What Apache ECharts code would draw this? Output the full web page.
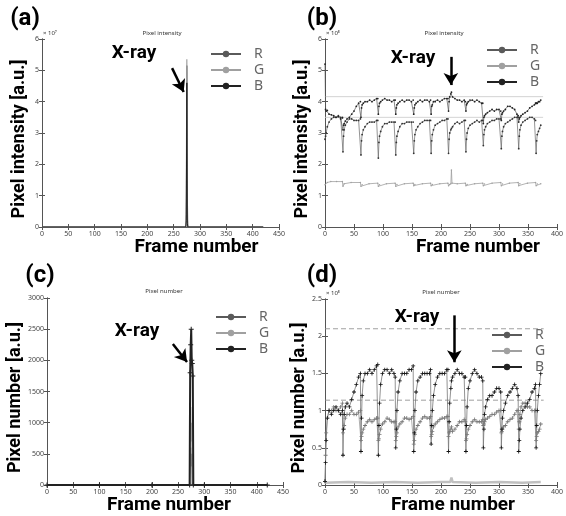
<!DOCTYPE html>
<html>
<head>
<meta charset="utf-8">
<script src="https://cdn.jsdelivr.net/npm/echarts@6/dist/echarts.min.js"></script>
<style>
html, body { margin: 0; padding: 0; background: #fff; }
#main { width: 566px; height: 516px; }
</style>
</head>
<body>
<div id="main"></div>
<script>
// ---------- data ----------
// (a) pixel intensity, whole recording (x10^7)
var aFrames = [0, 100, 200, 273, 274, 275, 276, 277, 300, 420];
var aR = [0, 0, 0, 0, 0.4, 5.15, 0.3, 0, 0, 0];
var aG = [0, 0, 0, 0, 1.0, 5.35, 0.8, 0, 0, 0];
var aB = [0, 0, 0, 0, 0.2, 4.6, 0.1, 0, 0, 0];

// (c) pixel number, whole recording
var cFrames = [0, 100, 200, 272, 273, 274, 275, 276, 277, 278, 279, 300, 420];
var cR = [0, 0, 0, 0, 0, 600, 300, 500, 0, 0, 0, 0, 0];
var cG = [0, 0, 0, 0, 0, 1250, 700, 1000, 0, 0, 0, 0, 0];
var cB = [0, 0, 0, 0, 1800, 2250, 2500, 2000, 1950, 1750, 0, 0, 0];

// (b) and (d) share the sampled frames
var frames = [
  0, 1, 2, 4, 7, 11, 15, 19, 23, 27, 30,
  31, 32, 33, 35, 38, 42, 46, 50, 54, 58, 61,
  62, 63, 64, 66, 69, 73, 77, 81, 85, 89, 91,
  92, 93, 94, 96, 99, 103, 107, 111, 115, 119, 121,
  122, 123, 124, 126, 129, 133, 137, 141, 145, 149, 152,
  153, 154, 155, 157, 160, 164, 168, 172, 176, 180, 182,
  183, 184, 185, 187, 190, 194, 198, 202, 206, 210, 212,
  213, 214, 215, 217, 218, 220, 224, 228, 232, 236, 240, 242,
  243, 244, 245, 247, 250, 254, 258, 262, 266, 270, 272,
  273, 274, 275, 277, 280, 284, 288, 292, 296, 300, 303,
  304, 305, 306, 308, 311, 315, 319, 323, 327, 331, 333,
  334, 335, 336, 338, 341, 345, 349, 353, 357, 361, 363,
  364, 365, 366, 368, 370, 372
];

// (b) pixel intensity (x10^5)
var bB = [
  5.2, 3.75, 3.7, 3.72, 3.6, 3.58, 3.55, 3.5, 3.52, 3.45, 3.48,
  3.1, 3.25, 3.3, 3.38, 3.45, 3.5, 3.6, 3.7, 3.85, 3.95, 4.0,
  3.5, 3.8, 3.9, 3.95, 4.0, 4.0, 4.05, 4.0, 4.05, 4.1, 4.1,
  3.6, 3.85, 3.95, 4.0, 4.05, 4.1, 4.05, 4.05, 4.0, 4.05, 4.05,
  3.6, 3.8, 3.9, 3.95, 4.0, 4.05, 4.0, 4.05, 4.05, 4.0, 4.05,
  3.6, 3.8, 3.9, 3.95, 4.0, 4.05, 4.0, 4.05, 4.05, 4.0, 4.05,
  3.6, 3.85, 3.9, 4.0, 4.0, 4.05, 4.0, 4.05, 4.1, 4.1, 4.1,
  3.7, 4.0, 4.15, 4.25, 4.3, 4.15, 4.1, 4.05, 4.05, 4.0, 4.05, 4.0,
  3.7, 3.9, 3.95, 4.0, 4.05, 4.05, 4.0, 4.05, 4.0, 3.95, 3.95,
  3.3, 3.5, 3.55, 3.6, 3.65, 3.7, 3.75, 3.7, 3.75, 3.75, 3.7,
  3.4, 3.6, 3.65, 3.7, 3.75, 3.85, 3.85, 3.8, 3.75, 3.6, 3.55,
  3.35, 3.45, 3.5, 3.55, 3.6, 3.65, 3.7, 3.8, 3.85, 3.9, 3.95,
  3.95, 3.95, 3.95, 4.0, 4.0, 4.05
];
var bR = [
  2.8, 2.9, 3.0, 3.2, 3.35, 3.45, 3.5, 3.5, 3.55, 3.5, 3.5,
  2.4, 2.9, 3.1, 3.25, 3.35, 3.45, 3.45, 3.4, 3.4, 3.4, 3.45,
  2.3, 2.75, 2.95, 3.1, 3.2, 3.3, 3.35, 3.35, 3.35, 3.4, 3.4,
  2.2, 2.7, 2.9, 3.05, 3.2, 3.3, 3.3, 3.35, 3.35, 3.35, 3.35,
  2.3, 2.7, 2.9, 3.05, 3.2, 3.3, 3.3, 3.35, 3.35, 3.35, 3.35,
  2.35, 2.75, 2.95, 3.1, 3.2, 3.3, 3.35, 3.4, 3.4, 3.4, 3.4,
  2.35, 2.75, 2.95, 3.1, 3.25, 3.3, 3.35, 3.4, 3.4, 3.45, 3.45,
  2.35, 2.8, 3.0, 3.1, 3.15, 3.2, 3.3, 3.35, 3.3, 3.35, 3.4, 3.4,
  2.4, 2.8, 3.0, 3.15, 3.25, 3.3, 3.35, 3.4, 3.35, 3.4, 3.4,
  2.6, 2.95, 3.1, 3.2, 3.3, 3.35, 3.4, 3.4, 3.45, 3.45, 3.45,
  2.5, 2.9, 3.05, 3.2, 3.3, 3.35, 3.4, 3.45, 3.5, 3.5, 3.5,
  2.5, 2.9, 3.1, 3.25, 3.35, 3.4, 3.45, 3.5, 3.5, 3.45, 3.4,
  2.35, 2.75, 2.95, 3.05, 3.15, 3.25
];
var bFramesG = [0, 4, 10, 20, 30, 31, 33, 45, 61, 62, 64, 76, 91, 92, 94, 106, 121, 122, 124, 137,
  152, 153, 155, 168, 182, 183, 185, 198, 212, 213, 215, 217, 218, 219, 228, 242, 243, 245, 258,
  272, 273, 275, 288, 303, 304, 306, 318, 333, 334, 336, 349, 363, 364, 366, 372];
var bG = [1.35, 1.42, 1.45, 1.45, 1.45, 1.3, 1.38, 1.42, 1.42, 1.3, 1.35, 1.38, 1.4, 1.3, 1.35, 1.38, 1.4, 1.3, 1.36, 1.38,
  1.4, 1.32, 1.36, 1.38, 1.4, 1.32, 1.36, 1.38, 1.4, 1.32, 1.36, 1.38, 1.82, 1.4, 1.38, 1.4, 1.32, 1.36, 1.38,
  1.4, 1.32, 1.37, 1.4, 1.42, 1.32, 1.37, 1.4, 1.42, 1.32, 1.38, 1.4, 1.42, 1.32, 1.37, 1.38];
var bRefLevels = [4.16, 3.5];
var bRefEnd = 376;

// (d) pixel number (x10^5)
var dB = [
  0.05, 0.3, 0.6, 0.9, 1.0, 0.95, 1.0, 1.05, 1.0, 0.95, 1.0,
  0.4, 0.75, 0.95, 1.05, 1.1, 1.05, 1.15, 1.25, 1.35, 1.45, 1.5,
  0.45, 0.9, 1.2, 1.4, 1.5, 1.5, 1.55, 1.5, 1.55, 1.6, 1.62,
  0.4, 0.8, 1.1, 1.35, 1.5, 1.55, 1.55, 1.5, 1.55, 1.5, 1.45,
  0.5, 0.75, 1.0, 1.25, 1.4, 1.5, 1.5, 1.5, 1.55, 1.55, 1.6,
  0.45, 0.7, 1.0, 1.25, 1.4, 1.45, 1.5, 1.5, 1.5, 1.5, 1.55,
  0.55, 0.8, 1.0, 1.2, 1.35, 1.45, 1.5, 1.5, 1.5, 1.55, 1.55,
  0.45, 0.85, 1.1, 1.3, 1.4, 1.45, 1.5, 1.55, 1.5, 1.5, 1.45, 1.45,
  0.45, 0.8, 1.05, 1.3, 1.4, 1.5, 1.55, 1.5, 1.45, 1.45, 1.4,
  0.5, 0.75, 0.95, 1.05, 1.15, 1.2, 1.2, 1.25, 1.3, 1.3, 1.25,
  0.5, 0.75, 0.9, 1.0, 1.1, 1.2, 1.25, 1.3, 1.35, 1.3, 1.2,
  0.45, 0.6, 0.75, 0.9, 1.0, 1.05, 1.1, 1.15, 1.25, 1.3, 1.35,
  0.5, 0.8, 1.0, 1.2, 1.35, 1.5
];
var dR = [
  0.05, 0.4, 0.7, 0.9, 1.0, 1.0, 1.05, 1.0, 1.0, 1.05, 1.1,
  0.7, 0.75, 0.8, 0.9, 0.95, 0.95, 1.0, 0.95, 0.95, 0.98, 1.0,
  0.6, 0.65, 0.7, 0.75, 0.8, 0.85, 0.88, 0.85, 0.88, 0.9, 0.9,
  0.6, 0.62, 0.68, 0.75, 0.82, 0.85, 0.9, 0.88, 0.85, 0.85, 0.85,
  0.6, 0.65, 0.7, 0.78, 0.82, 0.85, 0.9, 0.9, 0.88, 0.9, 0.92,
  0.55, 0.6, 0.68, 0.75, 0.8, 0.85, 0.9, 0.92, 0.9, 0.9, 0.92,
  0.65, 0.68, 0.72, 0.78, 0.82, 0.85, 0.88, 0.9, 0.9, 0.92, 0.92,
  0.65, 0.7, 0.72, 0.75, 0.78, 0.72, 0.75, 0.8, 0.85, 0.85, 0.88, 0.85,
  0.6, 0.62, 0.68, 0.75, 0.8, 0.85, 0.88, 0.85, 0.85, 0.85, 0.88,
  0.8, 0.82, 0.85, 0.88, 0.9, 0.92, 0.95, 0.95, 0.98, 1.0, 1.0,
  0.7, 0.72, 0.75, 0.78, 0.8, 0.85, 0.88, 0.9, 0.95, 1.0, 1.0,
  0.75, 0.85, 0.95, 1.05, 1.1, 1.1, 1.05, 1.05, 1.0, 1.0, 1.0,
  0.6, 0.65, 0.7, 0.72, 0.75, 0.82
];
var dFramesG = [0, 40, 80, 120, 160, 200, 216, 218, 220, 260, 300, 340, 372];
var dG = [0.03, 0.04, 0.03, 0.04, 0.03, 0.04, 0.04, 0.1, 0.04, 0.03, 0.04, 0.03, 0.04];
var dRefLevels = [2.1, 1.14];
var dRefEnd = 377;

// X-ray arrows (start, end) in data units
var arrowA = [[247, 5.07], [269, 4.31]];
var arrowB = [[217, 5.43], [217, 4.53]];
var arrowC = [[240, 2262], [267, 1973]];
var arrowD = [[223, 2.28], [223, 1.65]];

// axis setup per panel
var xMax = [450, 400, 450, 400];
var yMax = [6, 6, 3000, 2.5];
var yStep = [1, 1, 500, 0.5];
var yNames = ['Pixel intensity [a.u.]', 'Pixel intensity [a.u.]', 'Pixel number [a.u.]', 'Pixel number [a.u.]'];
var xNameShift = [72, 74, 8, 24];

// ---------- chart ----------
var FONT = 'Noto Sans';
var TFONT = 'Roboto';
var COL_R = '#5a5a5a', COL_G = '#a0a0a0', COL_B = '#222';
var PLUS = 'path://M4,0H6V4H10V6H6V10H4V6H0V4H4Z';

function pairs(xs, ys) {
    return xs.map(function (x, i) { return [x, ys[i]]; });
}

var grids = [
    {left: 42, top: 39, width: 237, height: 188},
    {left: 325, top: 39, width: 236, height: 188},
    {left: 47, top: 298, width: 236, height: 187},
    {left: 325, top: 299, width: 233, height: 186}
];

var tickStyle = {show: true, inside: true, length: 3, lineStyle: {color: '#555', width: 1}};
var lineAx = {show: true, lineStyle: {color: '#555', width: 1}};
var labelStyle = {fontSize: 7, color: '#444', fontFamily: FONT, margin: 3,
    formatter: function (v) { return String(v); }};

var xAxes = [], yAxes = [];
for (var i = 0; i < 4; i++) {
    xAxes.push({
        gridIndex: i, type: 'value', min: 0, max: xMax[i], interval: 50, position: 'bottom',
        axisLine: lineAx, axisTick: tickStyle, axisLabel: labelStyle, splitLine: {show: false},
        name: 'Frame number', nameLocation: 'middle', nameGap: 6,
        nameTextStyle: {fontSize: 19, fontWeight: 'bold', fontFamily: TFONT, color: '#000',
            verticalAlign: 'top', padding: [0, 0, 0, xNameShift[i]]}
    });
    xAxes.push({
        gridIndex: i, type: 'value', min: 0, max: xMax[i], interval: 50, position: 'top',
        axisLine: lineAx, axisTick: tickStyle, axisLabel: {show: false}, splitLine: {show: false}
    });
    yAxes.push({
        gridIndex: i, type: 'value', min: 0, max: yMax[i], interval: yStep[i], position: 'left',
        axisLine: lineAx, axisTick: tickStyle, axisLabel: labelStyle, splitLine: {show: false},
        name: yNames[i], nameLocation: 'middle', nameGap: 14, nameRotate: 90,
        nameTextStyle: {fontSize: 18, fontWeight: 'bold', fontFamily: TFONT, color: '#000',
            padding: [0, 12, 0, 0]}
    });
    yAxes.push({
        gridIndex: i, type: 'value', min: 0, max: yMax[i], interval: yStep[i], position: 'right',
        axisLine: lineAx, axisTick: tickStyle, axisLabel: {show: false}, splitLine: {show: false}
    });
}

function arrowLine(seg) {
    return {
        silent: true, symbol: ['none', 'arrow'], symbolSize: [11, 12],
        lineStyle: {color: '#000', width: 2.5, type: 'solid'},
        label: {show: false},
        data: [[{coord: seg[0]}, {coord: seg[1]}]]
    };
}

function lineSeries(name, grid, data, color, width, extra) {
    var s = {
        name: name, type: 'line', xAxisIndex: grid * 2, yAxisIndex: grid * 2,
        data: data, symbol: 'circle', symbolSize: 2, showSymbol: false,
        lineStyle: {color: color, width: width}, itemStyle: {color: color},
        emphasis: {disabled: true}
    };
    for (var k in extra) s[k] = extra[k];
    return s;
}

var series = [];
// (a)
series.push(lineSeries('R', 0, pairs(aFrames, aR), COL_R, 1, {markLine: arrowLine(arrowA)}));
series.push(lineSeries('G', 0, pairs(aFrames, aG), COL_G, 1.2, {}));
series.push(lineSeries('B', 0, pairs(aFrames, aB), COL_B, 1, {}));
// (b)
bRefLevels.forEach(function (v) {
    series.push(lineSeries('ref', 1, [[0, v], [bRefEnd, v]], '#c8c8c8', 0.8, {symbol: 'none'}));
});
series.push(lineSeries('G', 1, pairs(bFramesG, bG), COL_G, 0.8, {showSymbol: true, symbolSize: 1.5}));
series.push(lineSeries('R', 1, pairs(frames, bR), '#666', 0.7, {showSymbol: true, symbolSize: 1.8,
    itemStyle: {color: '#333'}, markLine: arrowLine(arrowB)}));
series.push(lineSeries('B', 1, pairs(frames, bB), '#555', 0.7, {showSymbol: true, symbolSize: 1.8,
    itemStyle: {color: '#222'}}));
// (c)
series.push(lineSeries('R', 2, pairs(cFrames, cR), COL_R, 1, {}));
series.push(lineSeries('G', 2, pairs(cFrames, cG), COL_G, 1.2, {}));
series.push(lineSeries('B', 2, pairs(cFrames, cB), COL_B, 2, {showSymbol: true, symbol: PLUS, symbolSize: 5,
    markLine: arrowLine(arrowC)}));
// (d)
dRefLevels.forEach(function (v) {
    series.push(lineSeries('ref', 3, [[0, v], [dRefEnd, v]], '#888', 0.8, {symbol: 'none',
        lineStyle: {color: '#888', width: 0.8, type: [5, 3]}}));
});
series.push(lineSeries('G', 3, pairs(dFramesG, dG), '#c0c0c0', 2.5, {}));
series.push(lineSeries('R', 3, pairs(frames, dR), '#999', 0.8, {showSymbol: true, symbol: PLUS, symbolSize: 4,
    itemStyle: {color: '#777'}}));
series.push(lineSeries('B', 3, pairs(frames, dB), '#777', 0.8, {showSymbol: true, symbol: PLUS, symbolSize: 4,
    itemStyle: {color: '#111'}, markLine: arrowLine(arrowD)}));

var legendPos = [[210, 47], [486, 43], [215, 310], [491, 328]];
var legends = legendPos.map(function (p) {
    return {
        data: ['R', 'G', 'B'], orient: 'vertical', left: p[0], top: p[1], padding: 0,
        itemWidth: 30, itemHeight: 8, itemGap: 2, selectedMode: false,
        lineStyle: {width: 2},
        textStyle: {fontSize: 14, color: '#666', fontFamily: FONT, padding: [0, 0, 0, 8]}
    };
});

function txt(x, y, s, size, weight, color, align, font) {
    return {type: 'text', x: x, y: y, silent: true,
        style: {text: s, fontSize: size, fontWeight: weight, fontFamily: font || FONT, fill: color,
            align: align || 'center', verticalAlign: 'middle'}};
}

var graphics = [
    txt(25, 19, '(a)', 24, 'bold', '#000', 'center', TFONT),
    txt(322, 19, '(b)', 24, 'bold', '#000', 'center', TFONT),
    txt(40, 276, '(c)', 24, 'bold', '#000', 'center', TFONT),
    txt(322, 276, '(d)', 24, 'bold', '#000', 'center', TFONT),
    txt(162, 33, 'Pixel intensity', 6, 'normal', '#333'),
    txt(444, 33, 'Pixel intensity', 6, 'normal', '#333'),
    txt(164, 291, 'Pixel number', 6, 'normal', '#333'),
    txt(441, 292, 'Pixel number', 6, 'normal', '#333'),
    txt(43, 33, '× 10⁷', 6, 'normal', '#333', 'left'),
    txt(326, 33, '× 10⁵', 6, 'normal', '#333', 'left'),
    txt(326, 293, '× 10⁵', 6, 'normal', '#333', 'left'),
    txt(134, 53, 'X-ray', 19, 'bold', '#000', 'center', TFONT),
    txt(413, 58, 'X-ray', 19, 'bold', '#000', 'center', TFONT),
    txt(137, 331, 'X-ray', 19, 'bold', '#000', 'center', TFONT),
    txt(417, 317, 'X-ray', 19, 'bold', '#000', 'center', TFONT)
];

var chart = echarts.init(document.getElementById('main'), null, {renderer: 'canvas'});
chart.setOption({
    animation: false,
    backgroundColor: '#fff',
    grid: grids,
    xAxis: xAxes,
    yAxis: yAxes,
    legend: legends,
    series: series,
    graphic: graphics
});
</script>
</body>
</html>
